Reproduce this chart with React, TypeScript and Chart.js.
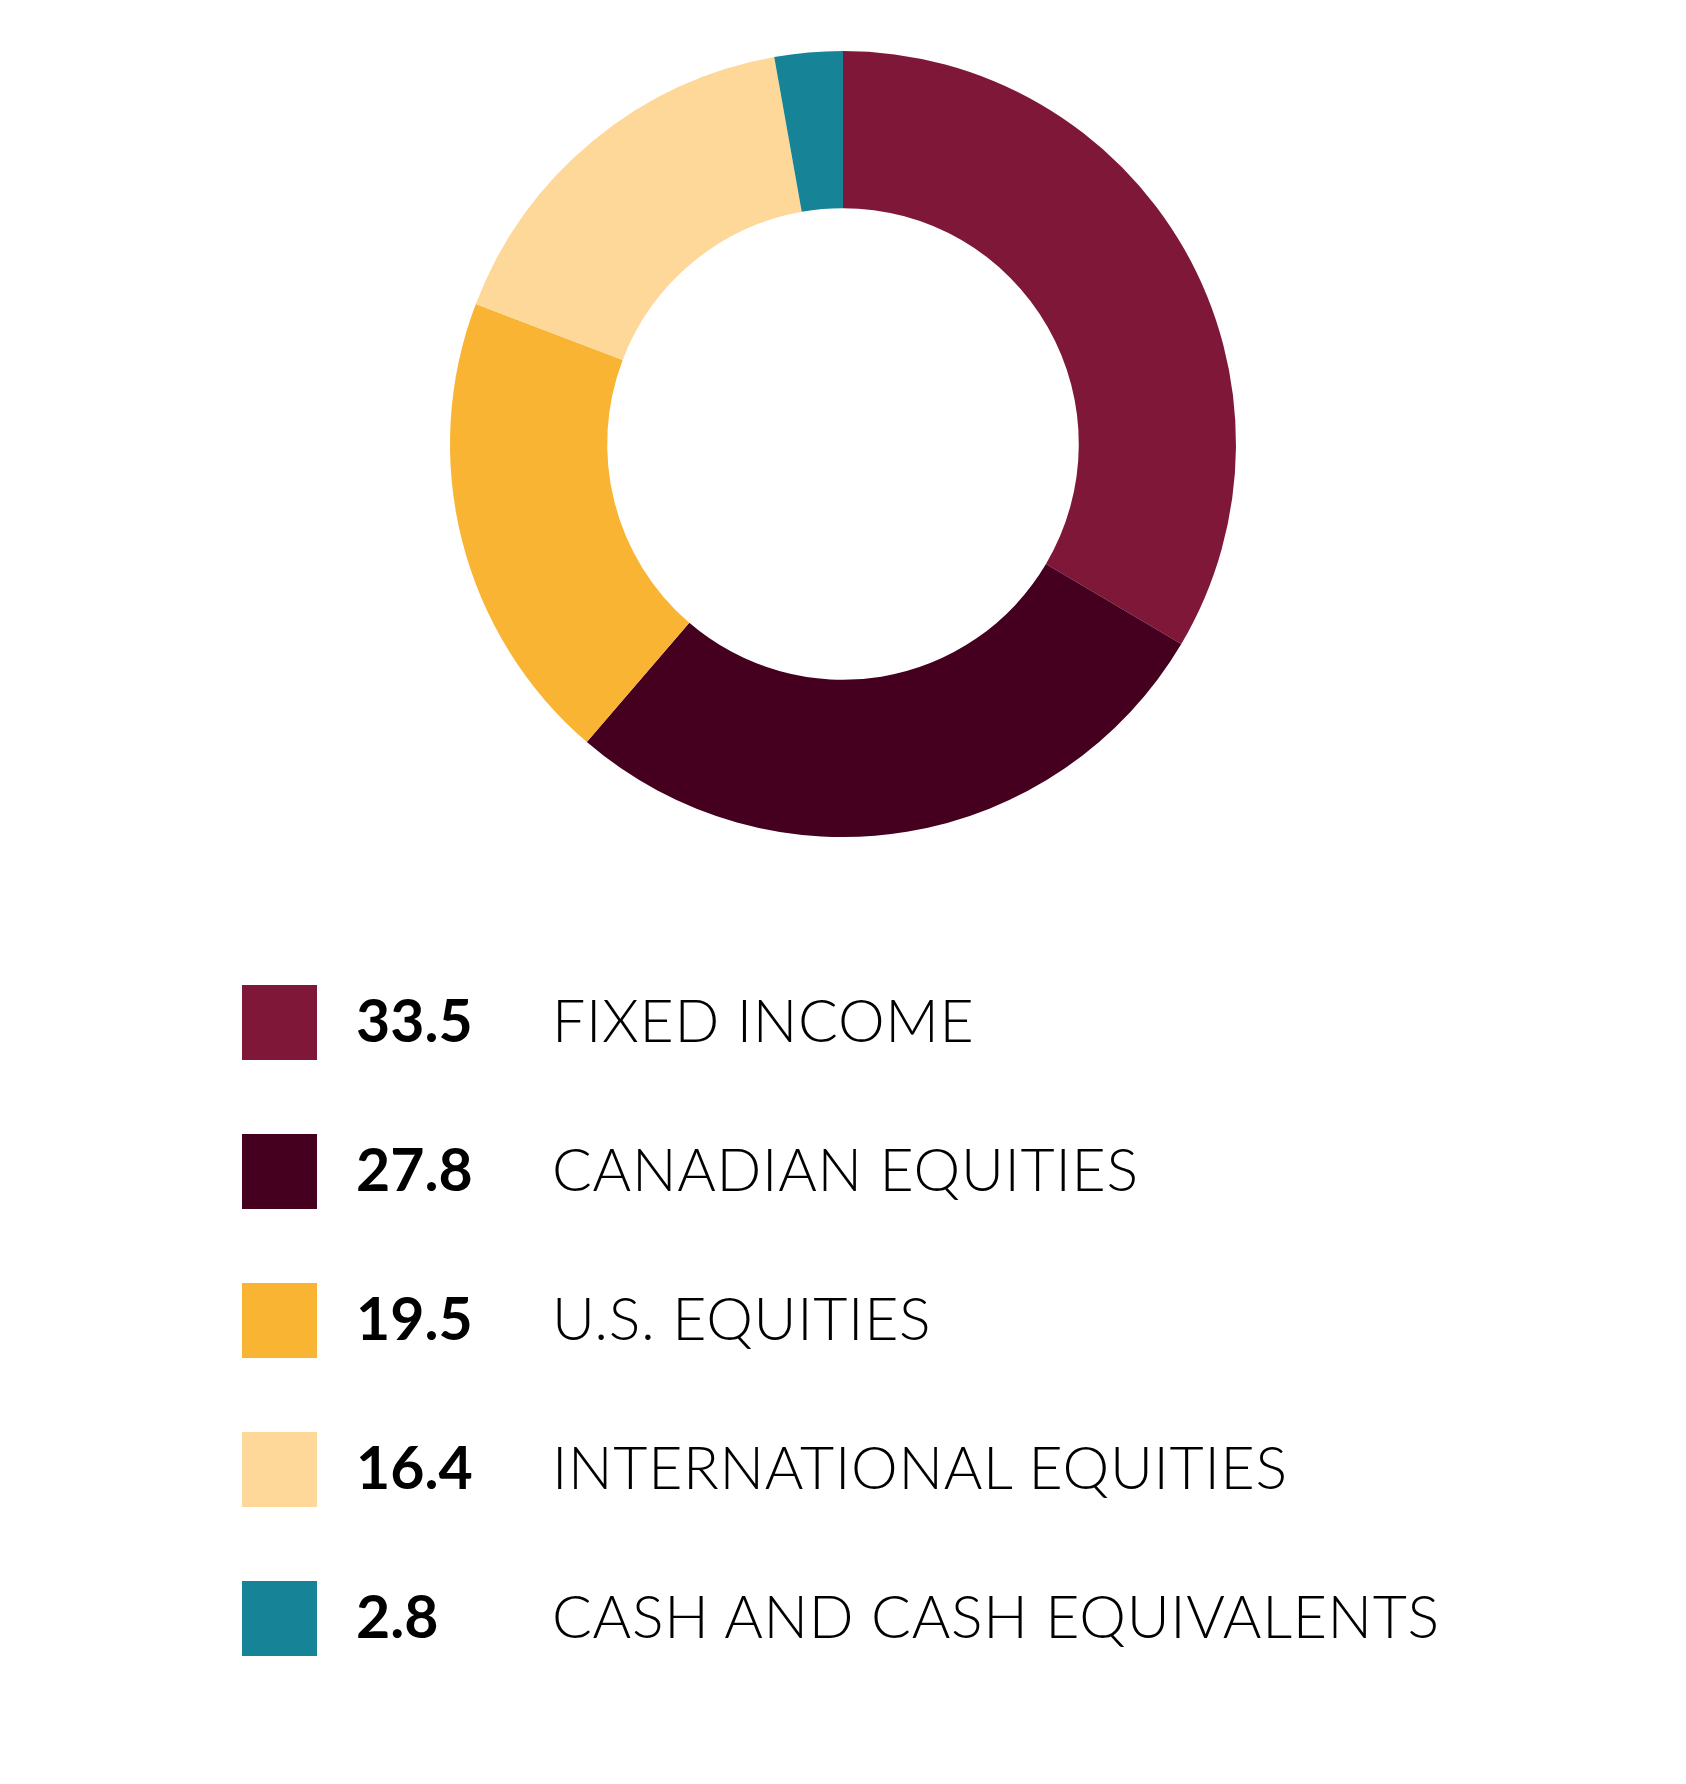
import React, { useEffect, useRef } from "react";
import { Chart, registerables } from "chart.js";

Chart.register(...registerables);

const categories = [
  "FIXED INCOME",
  "CANADIAN EQUITIES",
  "U.S. EQUITIES",
  "INTERNATIONAL EQUITIES",
  "CASH AND CASH EQUIVALENTS",
];
const values = [33.5, 27.8, 19.5, 16.4, 2.8];
const valueLabels = ["33.5", "27.8", "19.5", "16.4", "2.8"];
const colors = ["#7F1738", "#45001F", "#F9B434", "#FED899", "#168396"];

export default function App() {
  const canvasRef = useRef<HTMLCanvasElement | null>(null);

  useEffect(() => {
    document.body.style.margin = "0";
    const ctx = canvasRef.current;
    if (!ctx) return;
    const chart = new Chart(ctx, {
      type: "doughnut",
      data: {
        labels: categories,
        datasets: [
          {
            data: values,
            backgroundColor: colors,
            borderWidth: 0,
            hoverOffset: 0,
          },
        ],
      },
      options: {
        animation: false,
        responsive: false,
        cutout: "60%",
        layout: { padding: { top: 51, bottom: 51, left: 0, right: 0 } },
        plugins: {
          legend: { display: false },
          tooltip: { enabled: false },
        },
      },
    });
    return () => chart.destroy();
  }, []);

  const rowTop = 1022;
  const rowGap = 149;

  return (
    <div
      style={{
        position: "absolute",
        left: 0,
        top: 0,
        width: 1686,
        height: 1784,
        background: "#ffffff",
        overflow: "hidden",
      }}
    >
      <canvas
        ref={canvasRef}
        width={1686}
        height={888}
        style={{ position: "absolute", left: 0, top: 0, width: 1686, height: 888 }}
      />
      {categories.map((c, i) => {
        const cy = rowTop + i * rowGap;
        return (
          <React.Fragment key={c}>
            <div
              style={{
                position: "absolute",
                left: 242,
                top: cy - 37,
                width: 75,
                height: 75,
                background: colors[i],
              }}
            />
            <div
              style={{
                position: "absolute",
                left: 356,
                top: cy - 53,
                height: 100,
                display: "flex",
                alignItems: "center",
                fontFamily: "Lato",
                fontWeight: 700,
                fontSize: 59,
                color: "#000",
                whiteSpace: "nowrap",
              }}
            >
              {valueLabels[i]}
            </div>
            <div
              style={{
                position: "absolute",
                left: 552,
                top: cy - 53,
                height: 100,
                display: "flex",
                alignItems: "center",
                fontFamily: "Lato",
                fontWeight: 300,
                fontSize: 59,
                letterSpacing: "0.7px",
                color: "#000",
                whiteSpace: "nowrap",
              }}
            >
              {c}
            </div>
          </React.Fragment>
        );
      })}
    </div>
  );
}
